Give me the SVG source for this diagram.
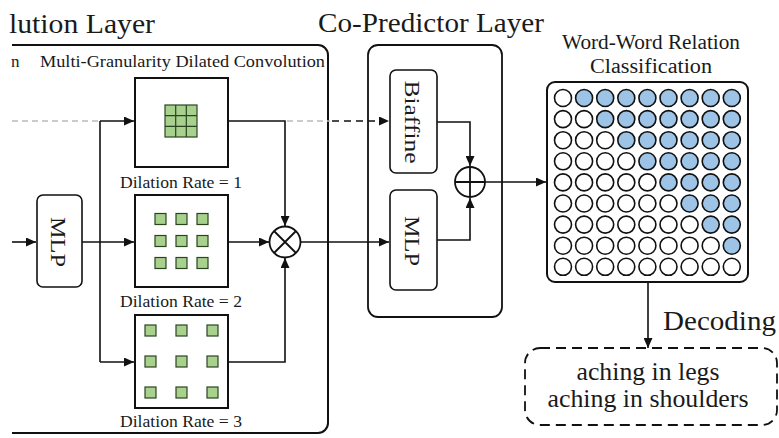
<svg xmlns="http://www.w3.org/2000/svg" width="779" height="438" viewBox="0 0 779 438">
<style>
text{font-family:"Liberation Serif","Times New Roman",serif;fill:#1a1a1a}
.box{fill:none;stroke:#111;stroke-width:2}
.thin{fill:#fff;stroke:#111;stroke-width:1.6}
.ln{fill:none;stroke:#111;stroke-width:1.6}
.arr{marker-end:url(#ah)}
.g{fill:#a9d18e;stroke:#2a4420;stroke-width:1.2}
.e{fill:#fff;stroke:#111;stroke-width:1.6}
.f{fill:#9dc3e6;stroke:#111;stroke-width:1.6}
</style>
<defs>
<marker id="ah" markerUnits="userSpaceOnUse" markerWidth="11" markerHeight="9" refX="10" refY="4.5" orient="auto">
<path d="M0,0 L10,4.5 L0,9 z" fill="#111"/>
</marker>
</defs>
<rect width="779" height="438" fill="#fff"/>

<g id="titles">
<text x="9" y="33" font-size="28" textLength="146" lengthAdjust="spacingAndGlyphs">lution Layer</text>
<text x="318" y="32" font-size="27" textLength="226" lengthAdjust="spacingAndGlyphs">Co-Predictor Layer</text>
<text x="11" y="67" font-size="17">n</text>
</g>

<g id="conv-layer">
<path class="box" d="M12,45 H318 A10,10 0 0 1 328,55 V423 A10,10 0 0 1 318,433 H12"/>
<text x="40" y="67" font-size="17.5" textLength="285" lengthAdjust="spacingAndGlyphs">Multi-Granularity Dilated Convolution</text>
</g>

<g id="connectors">
<line x1="12" y1="121" x2="100" y2="121" stroke="#bbb" stroke-width="1.6" stroke-dasharray="6,4"/>
<line x1="287" y1="121" x2="330" y2="121" stroke="#bbb" stroke-width="1.6" stroke-dasharray="6,4"/>
<path class="ln arr" d="M332,121 H389" stroke-dasharray="7,5"/>
<path class="ln arr" d="M12,242 H36"/>
<path class="ln arr" d="M82,242 H134"/>
<path class="ln" d="M100,121 V362"/>
<path class="ln arr" d="M100,121 H134"/>
<path class="ln arr" d="M100,362 H134"/>
<path class="ln arr" d="M228,121 H285 V226"/>
<path class="ln arr" d="M228,242 H269"/>
<path class="ln arr" d="M228,362 H285 V258"/>
<path class="ln arr" d="M300,242 H389"/>
<path class="ln arr" d="M437,122 H470 V166"/>
<path class="ln arr" d="M437,240 H470 V198"/>
<path class="ln arr" d="M485,182 H546"/>
<path class="ln arr" d="M648,283 V348"/>
</g>

<g id="mlp-left">
<rect class="thin" x="37" y="195" width="45" height="92" rx="6"/>
<text transform="translate(51,242) rotate(90)" text-anchor="middle" font-size="22" textLength="50" lengthAdjust="spacingAndGlyphs">MLP</text>
</g>

<g id="conv-rate1">
<rect class="box" x="135" y="78" width="93" height="89" fill="#fff"/>
<rect class="g" x="165" y="105" width="32" height="32"/>
<path d="M175.7,105 V137 M186.3,105 V137 M165,115.7 H197 M165,126.3 H197" stroke="#2a4420" stroke-width="1.2"/>
<text x="120" y="188" font-size="16.5" textLength="122" lengthAdjust="spacingAndGlyphs">Dilation Rate = 1</text>
</g>

<g id="conv-rate2">
<rect class="box" x="135" y="195" width="93" height="92" fill="#fff"/>
<rect class="g" x="155" y="213.5" width="11" height="11"/>
<rect class="g" x="176" y="213.5" width="11" height="11"/>
<rect class="g" x="197" y="213.5" width="11" height="11"/>
<rect class="g" x="155" y="235.5" width="11" height="11"/>
<rect class="g" x="176" y="235.5" width="11" height="11"/>
<rect class="g" x="197" y="235.5" width="11" height="11"/>
<rect class="g" x="155" y="257.5" width="11" height="11"/>
<rect class="g" x="176" y="257.5" width="11" height="11"/>
<rect class="g" x="197" y="257.5" width="11" height="11"/>
<text x="120" y="307" font-size="16.5" textLength="122" lengthAdjust="spacingAndGlyphs">Dilation Rate = 2</text>
</g>

<g id="conv-rate3">
<rect class="box" x="135" y="315" width="93" height="93" fill="#fff"/>
<rect class="g" x="145" y="325" width="11" height="11"/>
<rect class="g" x="176" y="325" width="11" height="11"/>
<rect class="g" x="207" y="325" width="11" height="11"/>
<rect class="g" x="145" y="356" width="11" height="11"/>
<rect class="g" x="176" y="356" width="11" height="11"/>
<rect class="g" x="207" y="356" width="11" height="11"/>
<rect class="g" x="145" y="387" width="11" height="11"/>
<rect class="g" x="176" y="387" width="11" height="11"/>
<rect class="g" x="207" y="387" width="11" height="11"/>
<text x="120" y="427" font-size="16.5" textLength="122" lengthAdjust="spacingAndGlyphs">Dilation Rate = 3</text>
</g>

<g id="multiply">
<circle cx="285" cy="242" r="15.5" fill="#fff" stroke="#111" stroke-width="1.8"/>
<path d="M274,231 L296,253 M296,231 L274,253" stroke="#111" stroke-width="1.8"/>
</g>

<g id="co-predictor">
<rect x="368" y="45" width="134" height="272" rx="10" fill="none" stroke="#111" stroke-width="1.8"/>
</g>

<g id="biaffine">
<rect class="thin" x="390" y="70" width="47" height="103" rx="6"/>
<text transform="translate(405,122) rotate(90)" text-anchor="middle" font-size="22" textLength="83" lengthAdjust="spacingAndGlyphs">Biaffine</text>
</g>

<g id="mlp-right">
<rect class="thin" x="390" y="190" width="47" height="100" rx="6"/>
<text transform="translate(405,241) rotate(90)" text-anchor="middle" font-size="22" textLength="50" lengthAdjust="spacingAndGlyphs">MLP</text>
</g>

<g id="add">
<circle cx="470" cy="182" r="15" fill="#fff" stroke="#111" stroke-width="1.8"/>
<path d="M455,182 H485 M470,167 V197" stroke="#111" stroke-width="1.8"/>
</g>

<g id="relation-matrix">
<text x="651" y="49" text-anchor="middle" font-size="20" textLength="178" lengthAdjust="spacingAndGlyphs">Word-Word Relation</text>
<text x="651" y="73" text-anchor="middle" font-size="20" textLength="122" lengthAdjust="spacingAndGlyphs">Classification</text>
<rect x="547" y="82" width="201" height="200" rx="8" fill="#fff" stroke="#111" stroke-width="2"/>
<g transform="translate(0,98)">
<circle class="e" cx="563" cy="0" r="8.5"/><circle class="f" cx="584.1" cy="0" r="8.5"/><circle class="f" cx="605.2" cy="0" r="8.5"/><circle class="f" cx="626.3" cy="0" r="8.5"/><circle class="f" cx="647.4" cy="0" r="8.5"/><circle class="f" cx="668.5" cy="0" r="8.5"/><circle class="f" cx="689.6" cy="0" r="8.5"/><circle class="f" cx="710.7" cy="0" r="8.5"/><circle class="f" cx="731.8" cy="0" r="8.5"/>
</g>
<g transform="translate(0,119.1)">
<circle class="e" cx="563" cy="0" r="8.5"/><circle class="e" cx="584.1" cy="0" r="8.5"/><circle class="f" cx="605.2" cy="0" r="8.5"/><circle class="f" cx="626.3" cy="0" r="8.5"/><circle class="f" cx="647.4" cy="0" r="8.5"/><circle class="f" cx="668.5" cy="0" r="8.5"/><circle class="f" cx="689.6" cy="0" r="8.5"/><circle class="f" cx="710.7" cy="0" r="8.5"/><circle class="f" cx="731.8" cy="0" r="8.5"/>
</g>
<g transform="translate(0,140.2)">
<circle class="e" cx="563" cy="0" r="8.5"/><circle class="e" cx="584.1" cy="0" r="8.5"/><circle class="e" cx="605.2" cy="0" r="8.5"/><circle class="f" cx="626.3" cy="0" r="8.5"/><circle class="f" cx="647.4" cy="0" r="8.5"/><circle class="f" cx="668.5" cy="0" r="8.5"/><circle class="f" cx="689.6" cy="0" r="8.5"/><circle class="f" cx="710.7" cy="0" r="8.5"/><circle class="f" cx="731.8" cy="0" r="8.5"/>
</g>
<g transform="translate(0,161.3)">
<circle class="e" cx="563" cy="0" r="8.5"/><circle class="e" cx="584.1" cy="0" r="8.5"/><circle class="e" cx="605.2" cy="0" r="8.5"/><circle class="e" cx="626.3" cy="0" r="8.5"/><circle class="f" cx="647.4" cy="0" r="8.5"/><circle class="f" cx="668.5" cy="0" r="8.5"/><circle class="f" cx="689.6" cy="0" r="8.5"/><circle class="f" cx="710.7" cy="0" r="8.5"/><circle class="f" cx="731.8" cy="0" r="8.5"/>
</g>
<g transform="translate(0,182.4)">
<circle class="e" cx="563" cy="0" r="8.5"/><circle class="e" cx="584.1" cy="0" r="8.5"/><circle class="e" cx="605.2" cy="0" r="8.5"/><circle class="e" cx="626.3" cy="0" r="8.5"/><circle class="e" cx="647.4" cy="0" r="8.5"/><circle class="f" cx="668.5" cy="0" r="8.5"/><circle class="f" cx="689.6" cy="0" r="8.5"/><circle class="f" cx="710.7" cy="0" r="8.5"/><circle class="f" cx="731.8" cy="0" r="8.5"/>
</g>
<g transform="translate(0,203.5)">
<circle class="e" cx="563" cy="0" r="8.5"/><circle class="e" cx="584.1" cy="0" r="8.5"/><circle class="e" cx="605.2" cy="0" r="8.5"/><circle class="e" cx="626.3" cy="0" r="8.5"/><circle class="e" cx="647.4" cy="0" r="8.5"/><circle class="e" cx="668.5" cy="0" r="8.5"/><circle class="f" cx="689.6" cy="0" r="8.5"/><circle class="f" cx="710.7" cy="0" r="8.5"/><circle class="f" cx="731.8" cy="0" r="8.5"/>
</g>
<g transform="translate(0,224.6)">
<circle class="e" cx="563" cy="0" r="8.5"/><circle class="e" cx="584.1" cy="0" r="8.5"/><circle class="e" cx="605.2" cy="0" r="8.5"/><circle class="e" cx="626.3" cy="0" r="8.5"/><circle class="e" cx="647.4" cy="0" r="8.5"/><circle class="e" cx="668.5" cy="0" r="8.5"/><circle class="e" cx="689.6" cy="0" r="8.5"/><circle class="f" cx="710.7" cy="0" r="8.5"/><circle class="f" cx="731.8" cy="0" r="8.5"/>
</g>
<g transform="translate(0,245.7)">
<circle class="e" cx="563" cy="0" r="8.5"/><circle class="e" cx="584.1" cy="0" r="8.5"/><circle class="e" cx="605.2" cy="0" r="8.5"/><circle class="e" cx="626.3" cy="0" r="8.5"/><circle class="e" cx="647.4" cy="0" r="8.5"/><circle class="e" cx="668.5" cy="0" r="8.5"/><circle class="e" cx="689.6" cy="0" r="8.5"/><circle class="e" cx="710.7" cy="0" r="8.5"/><circle class="f" cx="731.8" cy="0" r="8.5"/>
</g>
<g transform="translate(0,266.8)">
<circle class="e" cx="563" cy="0" r="8.5"/><circle class="e" cx="584.1" cy="0" r="8.5"/><circle class="e" cx="605.2" cy="0" r="8.5"/><circle class="e" cx="626.3" cy="0" r="8.5"/><circle class="e" cx="647.4" cy="0" r="8.5"/><circle class="e" cx="668.5" cy="0" r="8.5"/><circle class="e" cx="689.6" cy="0" r="8.5"/><circle class="e" cx="710.7" cy="0" r="8.5"/><circle class="e" cx="731.8" cy="0" r="8.5"/>
</g>
</g>

<g id="decoding">
<text x="663" y="330" font-size="28" textLength="113" lengthAdjust="spacingAndGlyphs">Decoding</text>
</g>

<g id="result">
<rect x="525" y="348" width="252" height="77" rx="15" fill="none" stroke="#111" stroke-width="1.8" stroke-dasharray="10,6"/>
<text x="648" y="380" text-anchor="middle" font-size="25" textLength="143" lengthAdjust="spacingAndGlyphs">aching in legs</text>
<text x="648" y="407" text-anchor="middle" font-size="25" textLength="201" lengthAdjust="spacingAndGlyphs">aching in shoulders</text>
</g>
</svg>
